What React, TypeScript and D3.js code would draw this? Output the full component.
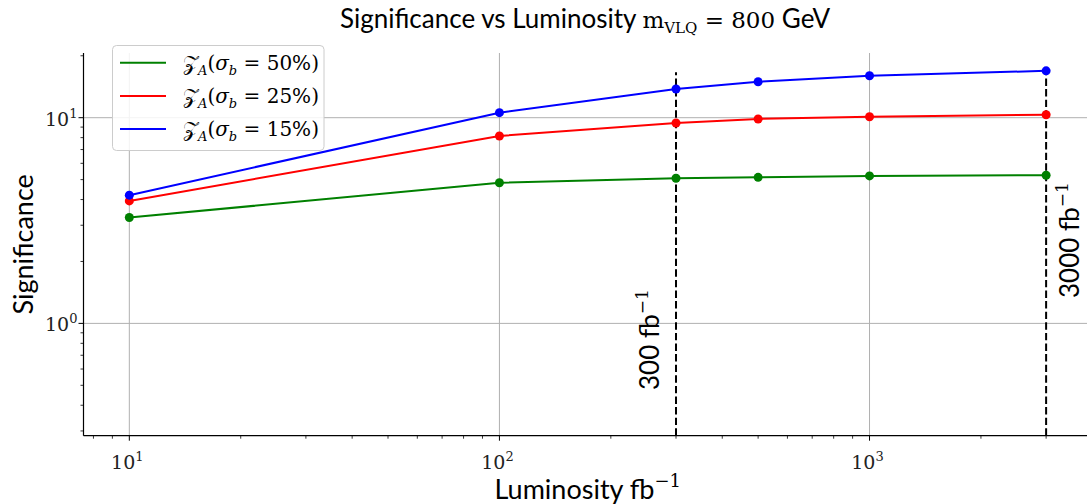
import React from "react";
import * as d3 from "d3";

const luminosity = [10, 100, 300, 500, 1000, 3000];
const z50 = [3.27, 4.83, 5.08, 5.13, 5.21, 5.25];
const z25 = [3.94, 8.15, 9.42, 9.86, 10.11, 10.34];
const z15 = [4.2, 10.58, 13.79, 14.96, 16.0, 16.9];
const seriesPercents = ["50%", "25%", "15%"];
const seriesColors = ["#008000", "#ff0000", "#0000ff"];
const refLines = [300, 3000];
const refLabels = ["300", "3000"];
const xMajor = [10, 100, 1000];
const yMajor = [1, 10];

const W = 1087;
const H = 504;
const L = 83.5;
const R = 1092;
const T = 53;
const B = 435.7;

const SANS = "Lato, 'Open Sans', sans-serif";
const SERIF = "'DejaVu Serif', 'Liberation Serif', serif";

export default function App() {
  const x = d3.scaleLog().domain([Math.pow(10, 0.8762), Math.pow(10, 3.6011)]).range([L, R]);
  const y = d3.scaleLog().domain([Math.pow(10, -0.546), Math.pow(10, 1.3145)]).range([B, T]);
  const series = [z50, z25, z15];

  const xMinor: number[] = [];
  for (let e = 0; e <= 3; e++) {
    for (let m = 2; m <= 9; m++) {
      const v = m * Math.pow(10, e);
      const [a, b] = x.domain();
      if (v >= a && v <= b) xMinor.push(v);
    }
  }
  const yMinor: number[] = [];
  for (let e = -1; e <= 1; e++) {
    for (let m = 2; m <= 9; m++) {
      const v = m * Math.pow(10, e);
      const [a, b] = y.domain();
      if (v >= a && v <= b) yMinor.push(v);
    }
  }

  const line = d3
    .line<number>()
    .x((_, i) => x(luminosity[i]))
    .y((d) => y(d));

  const yTop = B - 0.95 * (B - T);
  const refPos = [
    [659, 390],
    [1079, 298],
  ];

  return (
    <svg width={W} height={H} style={{ position: "absolute", left: 0, top: 0 }}>
      <rect width={W} height={H} fill="white" />
      <defs>
        <clipPath id="plot">
          <rect x={L} y={T - 10} width={R - L} height={B - T + 10} />
        </clipPath>
      </defs>
      {/* grid */}
      {xMajor.map((v) => (
        <line key={"gx" + v} x1={x(v)} x2={x(v)} y1={T} y2={B} stroke="#b0b0b0" strokeWidth={1} />
      ))}
      {yMajor.map((v) => (
        <line key={"gy" + v} x1={L} x2={R} y1={y(v)} y2={y(v)} stroke="#b0b0b0" strokeWidth={1} />
      ))}
      {/* reference lines */}
      {refLines.map((v) => (
        <line
          key={"ref" + v}
          x1={x(v)}
          x2={x(v)}
          y1={B}
          y2={yTop}
          stroke="black"
          strokeWidth={2}
          strokeDasharray="7.4,3.2"
        />
      ))}
      {/* series */}
      <g clipPath="url(#plot)">
        {series.map((s, si) => (
          <g key={"s" + si}>
            <path d={line(s) || ""} fill="none" stroke={seriesColors[si]} strokeWidth={2} />
            {s.map((v, i) => (
              <circle key={i} cx={x(luminosity[i])} cy={y(v)} r={4.5} fill={seriesColors[si]} />
            ))}
          </g>
        ))}
      </g>
      {/* ref labels */}
      {refLines.map((v, i) => {
        const [px, py] = refPos[i];
        return (
          <text
            key={"rl" + v}
            transform={`translate(${px},${py}) rotate(-90)`}
            fontFamily={SANS}
            fontSize={26}
            fill="black"
          >
            {refLabels[i]} fb
            <tspan dy={-11} fontSize={17} fontFamily={SERIF}>
              −1
            </tspan>
          </text>
        );
      })}
      {/* axes */}
      <line x1={L} x2={L} y1={T} y2={B} stroke="black" strokeWidth={1.2} />
      <line x1={L} x2={R} y1={B} y2={B} stroke="black" strokeWidth={1.2} />
      {xMajor.map((v) => (
        <g key={"xt" + v}>
          <line x1={x(v)} x2={x(v)} y1={B} y2={B + 5} stroke="black" strokeWidth={1} />
          <text x={x(v) - 2} y={B + 33} textAnchor="middle" fontFamily={SERIF} fontSize={19} fill="#222">
            10
            <tspan dy={-8} fontSize={13}>
              {Math.round(Math.log10(v))}
            </tspan>
          </text>
        </g>
      ))}
      {xMinor.map((v) => (
        <line key={"xm" + v} x1={x(v)} x2={x(v)} y1={B} y2={B + 3} stroke="black" strokeWidth={0.8} />
      ))}
      {yMajor.map((v) => (
        <g key={"yt" + v}>
          <line x1={L} x2={L - 5} y1={y(v)} y2={y(v)} stroke="black" strokeWidth={1} />
          <text x={L - 6} y={y(v) + 8} textAnchor="end" fontFamily={SERIF} fontSize={19} fill="#222">
            10
            <tspan dy={-8} fontSize={13}>
              {Math.round(Math.log10(v))}
            </tspan>
          </text>
        </g>
      ))}
      {yMinor.map((v) => (
        <line key={"ym" + v} x1={L} x2={L - 3} y1={y(v)} y2={y(v)} stroke="black" strokeWidth={0.8} />
      ))}
      {/* axis labels */}
      <text x={(L + R) / 2} y={499} textAnchor="middle" fontFamily={SANS} fontSize={27} fill="black">
        Luminosity fb
        <tspan dy={-12} fontSize={18} fontFamily={SERIF}>
          −1
        </tspan>
      </text>
      <text
        transform={`translate(33,${(T + B) / 2}) rotate(-90)`}
        textAnchor="middle"
        fontFamily={SANS}
        fontSize={27}
        fill="black"
      >
        Significance
      </text>
      {/* title */}
      <text x={585} y={28} textAnchor="middle" fontFamily={SANS} fontSize={26} fill="black">
        Significance vs Luminosity{" "}
        <tspan fontFamily={SERIF} fontSize={23}>m</tspan>
        <tspan fontFamily={SERIF} fontSize={15} dy={5}>VLQ</tspan>
        <tspan fontFamily={SERIF} fontSize={23} dy={-5}> = 800</tspan>
        <tspan> GeV</tspan>
      </text>
      {/* legend */}
      <g>
        <rect x={112.5} y={45.5} width={211.5} height={105} rx={4} fill="white" fillOpacity={0.85} stroke="#cccccc" strokeWidth={1} />
        {seriesPercents.map((p, i) => {
          const ly = 62.7 + i * 33.2;
          return (
            <g key={"lg" + i}>
              <line x1={120} x2={166} y1={ly} y2={ly} stroke={seriesColors[i]} strokeWidth={2} />
              <text x={183} y={ly + 7} fontFamily={SERIF} fontSize={20} fill="black">
                <tspan>𝒵</tspan>
                <tspan fontSize={13} dy={5} fontStyle="italic">A</tspan>
                <tspan dy={-5}>(</tspan>
                <tspan fontStyle="italic">σ</tspan>
                <tspan fontSize={13} dy={5} fontStyle="italic">b</tspan>
                <tspan dy={-5}> = {p})</tspan>
              </text>
            </g>
          );
        })}
      </g>
    </svg>
  );
}
